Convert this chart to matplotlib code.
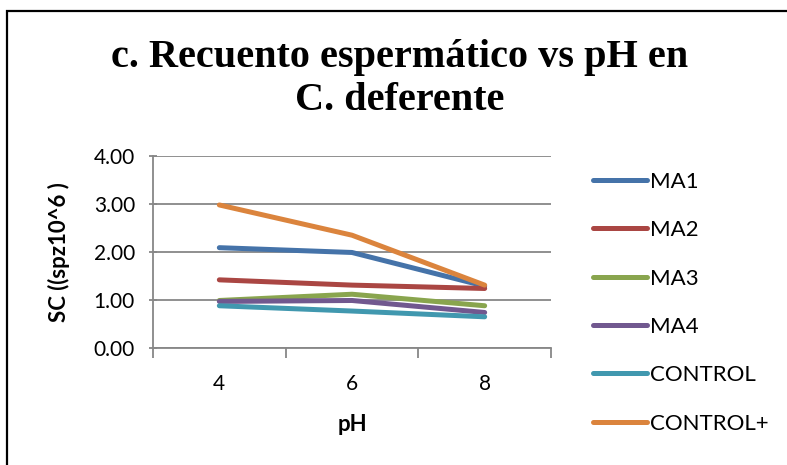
import matplotlib
matplotlib.use("Agg")
import matplotlib.pyplot as plt
from matplotlib.patches import Rectangle
from matplotlib.ticker import FixedLocator

categories = ["4", "6", "8"]
series_names = ["MA1", "MA2", "MA3", "MA4", "CONTROL", "CONTROL+"]
ma1 = [2.09, 1.99, 1.29]
ma2 = [1.42, 1.31, 1.24]
ma3 = [0.99, 1.12, 0.88]
ma4 = [0.97, 0.99, 0.74]
control = [0.88, 0.77, 0.65]
control_plus = [2.98, 2.35, 1.31]
yticks = [0.0, 1.0, 2.0, 3.0, 4.0]

colors = ["#4573A9", "#AA4643", "#89A54E", "#71588F", "#4198AF", "#DB843D"]
values = [ma1, ma2, ma3, ma4, control, control_plus]

sans = ["Lato", "DejaVu Sans"]
W, H = 787, 465
fig = plt.figure(figsize=(W / 100, H / 100), dpi=100)
fig.patch.set_facecolor("white")

# outer frame (right/bottom edges fall outside the picture)
fig.patches.append(Rectangle((7 / W, -0.05), 1.2, 1 - 11 / H + 0.05,
                             transform=fig.transFigure, fill=False,
                             edgecolor="black", linewidth=1.6))

ax = fig.add_axes([153 / W, 1 - 348 / H, (551 - 153) / W, (348 - 156) / H])
x = list(range(len(categories)))
for name, vals, c in zip(series_names, values, colors):
    ax.plot(x, vals, color=c, linewidth=3.6, solid_capstyle="round",
            solid_joinstyle="round", label=name, zorder=3)

ax.set_xlim(-0.5, len(categories) - 0.5)
ax.set_ylim(0, 4)
ax.set_yticks(yticks)
ax.set_yticklabels([f"{v:.2f}" for v in yticks], fontsize=15, family=sans)
ax.set_xticks(x)
ax.set_xticklabels(categories, fontsize=15, family=sans)
ax.xaxis.set_minor_locator(FixedLocator([-0.5, 0.5, 1.5, 2.5]))
ax.tick_params(axis="x", which="major", length=0, pad=19)
ax.tick_params(axis="x", which="minor", length=7, width=1.3, color="#878787")
ax.tick_params(axis="y", which="major", length=6, width=1.3, color="#878787",
               direction="inout", pad=10)
ax.grid(axis="y", color="#878787", linewidth=1.3, zorder=0)
ax.set_axisbelow(True)
for s in ["top", "right"]:
    ax.spines[s].set_visible(False)
for s in ["left", "bottom"]:
    ax.spines[s].set_color("#878787")
    ax.spines[s].set_linewidth(1.3)

ax.set_xlabel("pH", fontsize=16, fontweight="bold", family=sans, labelpad=14)
ax.set_ylabel("SC ((spz10^6 )", fontsize=16, fontweight="bold", family=sans,
              labelpad=17)

fig.text(400 / W, 1 - 79 / H, "c. Recuento espermático vs pH en\nC. deferente",
         ha="center", va="center", fontsize=29, fontweight="bold",
         family=["Liberation Serif", "DejaVu Serif"], linespacing=1.18)

leg = fig.legend(loc="upper left", bbox_to_anchor=(584 / W, 1 - 163 / H),
                 frameon=False, prop={"family": sans, "size": 16},
                 handlelength=2.45, handletextpad=0.1, labelspacing=1.275,
                 borderaxespad=0)

fig.savefig("out.png", dpi=100)
